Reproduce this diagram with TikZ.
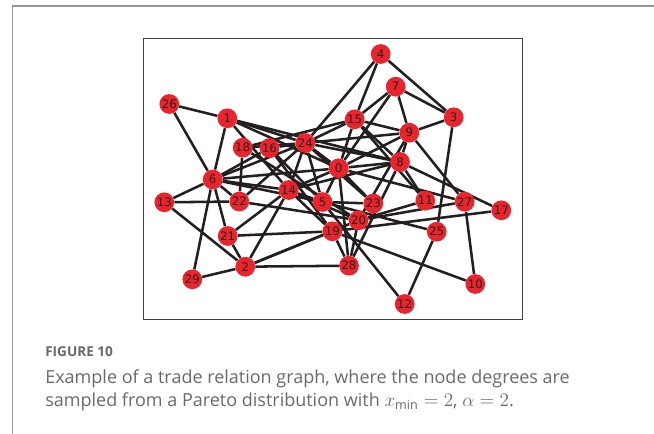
\documentclass[tikz,border=0pt]{standalone}
\usepackage{amsmath}
\usepackage{fontspec}
\setmainfont{Open Sans}
\newfontfamily\nodefont{DejaVu Sans}
\usetikzlibrary{backgrounds}
\definecolor{nodered}{RGB}{234,36,44}
\definecolor{edgecol}{RGB}{35,31,32}
\definecolor{labelcol}{RGB}{40,30,30}
\definecolor{capgray}{RGB}{105,105,108}
\definecolor{framegray}{RGB}{150,150,150}
\begin{document}
\begin{tikzpicture}[x=0.75pt,y=-0.75pt,
  gnode/.style={circle,fill=nodered,inner sep=0pt,minimum size=14.8pt,text=labelcol,font=\nodefont\fontsize{8.8pt}{9pt}\selectfont},
  edge/.style={draw=edgecol,line width=1.9pt},
  captext/.style={anchor=base west,inner sep=0pt,text=capgray}]
\useasboundingbox (0,0) rectangle (654,434);
% frame
\draw[framegray,line width=1.1pt] (12.7,434) -- (12.7,6) -- (654,6);
% plot box
\draw[black!75,line width=0.6pt] (143,38) rectangle (522,319);
% nodes
\node[gnode] (n4) at (380.7,54) {4};
\node[gnode] (n7) at (395.7,86.7) {7};
\node[gnode] (n3) at (453.7,117.3) {3};
\node[gnode] (n26) at (169.3,104) {26};
\node[gnode] (n1) at (227.3,118.3) {1};
\node[gnode] (n15) at (354.7,119.3) {15};
\node[gnode] (n9) at (409.3,132.7) {9};
\node[gnode] (n24) at (305.3,143) {24};
\node[gnode] (n18) at (242.7,147.7) {18};
\node[gnode] (n16) at (269.5,148) {16};
\node[gnode] (n0) at (338.7,168.3) {0};
\node[gnode] (n8) at (400,162) {8};
\node[gnode] (n6) at (212.7,179.5) {6};
\node[gnode] (n14) at (288.7,190) {14};
\node[gnode] (n22) at (239.3,201.5) {22};
\node[gnode] (n13) at (164.3,202.3) {13};
\node[gnode] (n5) at (322.5,202) {5};
\node[gnode] (n23) at (373.3,203.5) {23};
\node[gnode] (n11) at (425.3,200.7) {11};
\node[gnode] (n27) at (464.7,201.7) {27};
\node[gnode] (n17) at (501.3,210.3) {17};
\node[gnode] (n20) at (358.5,220.3) {20};
\node[gnode] (n19) at (332.3,231.3) {19};
\node[gnode] (n25) at (436.7,231.7) {25};
\node[gnode] (n21) at (227.7,236) {21};
\node[gnode] (n2) at (245.3,266.7) {2};
\node[gnode] (n28) at (349,265.7) {28};
\node[gnode] (n29) at (192.3,279.3) {29};
\node[gnode] (n10) at (475.3,284) {10};
\node[gnode] (n12) at (404.7,304) {12};
% edges
\begin{scope}[on background layer]
\foreach \a/\b in {4/15,4/24,4/3,
  7/15,7/9,7/3,7/0,
  3/9,3/25,
  9/15,9/24,9/0,9/8,9/27,9/20,
  15/24,15/18,15/0,15/8,15/11,
  8/0,8/14,8/11,8/17,8/24,8/1,8/28,
  1/26,1/6,1/24,1/0,1/14,
  26/6,
  24/16,24/18,24/6,24/14,24/0,24/5,24/23,24/22,
  16/6,16/5,16/19,
  18/22,18/20,
  6/13,6/29,6/21,6/22,6/0,6/14,6/5,
  13/22,13/2,
  22/20,
  14/0,14/5,14/19,14/20,14/21,14/2,
  0/5,0/23,0/27,0/28,
  5/23,5/12,5/25,
  21/19,21/2,
  2/29,2/28,2/19,2/20,
  19/10,19/17,19/28,
  20/11,20/27,20/28,
  27/10,
  25/12}
  \draw[edge] (n\a) -- (n\b);
\end{scope}
% caption
\node[captext,font=\bfseries\fontsize{10.2pt}{12pt}\selectfont] (fig) at (45,357) {FIGURE 10};
\node[captext,font=\fontsize{13.5pt}{15pt}\selectfont] (cap1) at (45,384) {Example of a trade relation graph, where the node degrees are};
\node[captext,font=\fontsize{13.5pt}{15pt}\selectfont] (cap2) at (45,407) {sampled from a Pareto distribution with $x_{\text{min}}=2$, $\alpha=2$.};
\end{tikzpicture}
\end{document}
